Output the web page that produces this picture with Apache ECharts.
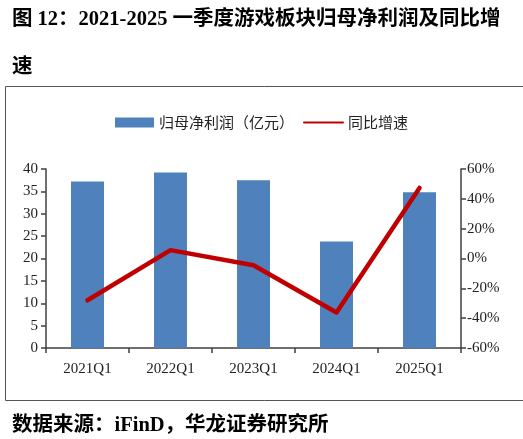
<!DOCTYPE html>
<html>
<head>
<meta charset="utf-8">
<script src="https://cdn.jsdelivr.net/npm/echarts@6/dist/echarts.min.js"></script>
<style>
  html, body { margin: 0; padding: 0; background: #fff; }
  #main { width: 523px; height: 439px; }
</style>
</head>
<body>
<div id="main"></div>
<script>
var categories = ['2021Q1', '2022Q1', '2023Q1', '2024Q1', '2025Q1'];
var profitValues = [37.2, 39.2, 37.5, 23.8, 34.8];   // 归母净利润（亿元）
var growthValues = [-28, 5.6, -4.5, -36.2, 47.3];     // 同比增速 (%)

var chart = echarts.init(document.getElementById('main'), null, { renderer: 'canvas' });

var serif = '"Liberation Serif", "Times New Roman", serif';
var cjk = '"Liberation Serif", "Noto Sans CJK SC", serif';
var axisColor = '#404040';

var option = {
  backgroundColor: '#fff',
  animation: false,
  title: [{
    text: '图 12：2021-2025 一季度游戏板块归母净利润及同比增',
    left: 7,
    top: 4,
    textStyle: { fontFamily: cjk, fontSize: 20.5, fontWeight: 'bold', color: '#000' }
  }, {
    text: '速',
    left: 7,
    top: 52,
    textStyle: { fontFamily: cjk, fontSize: 20.5, fontWeight: 'bold', color: '#000' }
  }, {
    text: '数据来源：iFinD，华龙证券研究所',
    left: 7,
    top: 410,
    textStyle: { fontFamily: cjk, fontSize: 20.5, fontWeight: 'bold', color: '#000' }
  }],
  graphic: [{
    type: 'polyline',
    shape: { points: [[530, 86.5], [5.5, 86.5], [5.5, 400.5], [530, 400.5]] },
    style: { stroke: '#555', lineWidth: 1, fill: null }
  }],
  legend: {
    top: 110,
    left: 'center',
    itemWidth: 39,
    itemHeight: 10,
    itemGap: 9,
    textStyle: { fontFamily: '"Noto Sans CJK SC", sans-serif', fontSize: 15, color: '#222' },
    data: [
      { name: '归母净利润（亿元）', icon: 'rect' },
      { name: '同比增速', itemStyle: { opacity: 0 } }
    ]
  },
  grid: { left: 46, right: 62, top: 169, bottom: 91, containLabel: false },
  xAxis: {
    type: 'category',
    data: categories,
    boundaryGap: true,
    axisLine: { lineStyle: { color: axisColor, width: 1.5 } },
    axisTick: { show: true, alignWithLabel: false, length: 5, lineStyle: { color: axisColor, width: 1.5 } },
    axisLabel: { fontFamily: serif, fontSize: 15, color: '#222', margin: 14 }
  },
  yAxis: [{
    type: 'value',
    min: 0,
    max: 40,
    interval: 5,
    axisLine: { show: true, lineStyle: { color: axisColor, width: 1.5 } },
    axisTick: { show: true, length: 5, lineStyle: { color: axisColor, width: 1.5 } },
    splitLine: { show: false },
    axisLabel: { fontFamily: serif, fontSize: 15, color: '#222', margin: 8 }
  }, {
    type: 'value',
    min: -60,
    max: 60,
    interval: 20,
    position: 'right',
    axisLine: { show: true, lineStyle: { color: axisColor, width: 1.5 } },
    axisTick: { show: true, length: 5, lineStyle: { color: axisColor, width: 1.5 } },
    splitLine: { show: false },
    axisLabel: { fontFamily: serif, fontSize: 15, color: '#222', margin: 6, formatter: '{value}%' }
  }],
  series: [{
    name: '归母净利润（亿元）',
    type: 'bar',
    data: profitValues,
    barWidth: 33,
    itemStyle: { color: '#4F81BD' }
  }, {
    name: '同比增速',
    type: 'line',
    yAxisIndex: 1,
    data: growthValues,
    symbol: 'none',
    lineStyle: { color: '#C00000', width: 4.5, cap: 'round', join: 'round' },
    itemStyle: { color: '#C00000' }
  }]
};

chart.setOption(option);
</script>
</body>
</html>
